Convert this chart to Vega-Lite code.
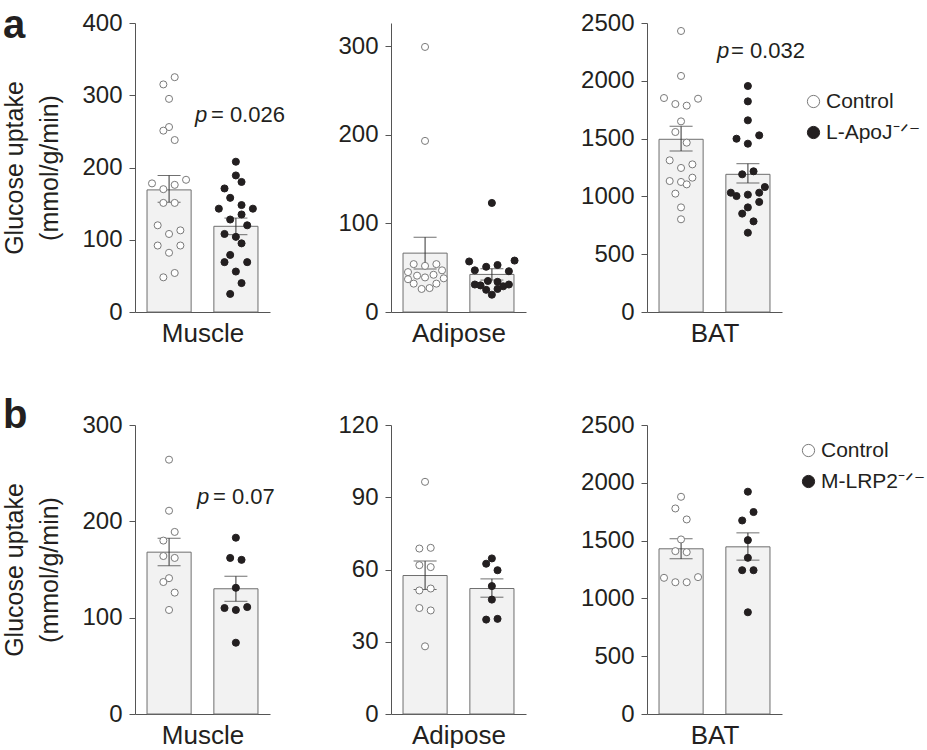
{
  "$schema": "https://vega.github.io/schema/vega-lite/v6.json",
  "padding": {"left": 2, "top": 6, "right": 0, "bottom": 0},
  "background": "white",
  "datasets": {
    "points": [
      {"exp":"a","tissue":"Muscle","group":"Control","value":325,"jit":1},
      {"exp":"a","tissue":"Muscle","group":"Control","value":315,"jit":-1},
      {"exp":"a","tissue":"Muscle","group":"Control","value":295,"jit":0},
      {"exp":"a","tissue":"Muscle","group":"Control","value":256,"jit":0},
      {"exp":"a","tissue":"Muscle","group":"Control","value":251,"jit":-1},
      {"exp":"a","tissue":"Muscle","group":"Control","value":238,"jit":1},
      {"exp":"a","tissue":"Muscle","group":"Control","value":183,"jit":3},
      {"exp":"a","tissue":"Muscle","group":"Control","value":178,"jit":-3},
      {"exp":"a","tissue":"Muscle","group":"Control","value":176,"jit":1},
      {"exp":"a","tissue":"Muscle","group":"Control","value":170,"jit":-1},
      {"exp":"a","tissue":"Muscle","group":"Control","value":151,"jit":-1},
      {"exp":"a","tissue":"Muscle","group":"Control","value":151,"jit":1},
      {"exp":"a","tissue":"Muscle","group":"Control","value":120,"jit":-2},
      {"exp":"a","tissue":"Muscle","group":"Control","value":113,"jit":2},
      {"exp":"a","tissue":"Muscle","group":"Control","value":108,"jit":0},
      {"exp":"a","tissue":"Muscle","group":"Control","value":92,"jit":-2},
      {"exp":"a","tissue":"Muscle","group":"Control","value":92,"jit":2},
      {"exp":"a","tissue":"Muscle","group":"Control","value":82,"jit":0},
      {"exp":"a","tissue":"Muscle","group":"Control","value":54,"jit":1},
      {"exp":"a","tissue":"Muscle","group":"Control","value":48,"jit":-1},
      {"exp":"a","tissue":"Muscle","group":"L-ApoJ","value":208,"jit":0},
      {"exp":"a","tissue":"Muscle","group":"L-ApoJ","value":189,"jit":0},
      {"exp":"a","tissue":"Muscle","group":"L-ApoJ","value":180,"jit":1},
      {"exp":"a","tissue":"Muscle","group":"L-ApoJ","value":171,"jit":-2},
      {"exp":"a","tissue":"Muscle","group":"L-ApoJ","value":158,"jit":-1},
      {"exp":"a","tissue":"Muscle","group":"L-ApoJ","value":148,"jit":1},
      {"exp":"a","tissue":"Muscle","group":"L-ApoJ","value":143,"jit":-3},
      {"exp":"a","tissue":"Muscle","group":"L-ApoJ","value":143,"jit":3},
      {"exp":"a","tissue":"Muscle","group":"L-ApoJ","value":135,"jit":1},
      {"exp":"a","tissue":"Muscle","group":"L-ApoJ","value":128,"jit":-1},
      {"exp":"a","tissue":"Muscle","group":"L-ApoJ","value":120,"jit":2},
      {"exp":"a","tissue":"Muscle","group":"L-ApoJ","value":108,"jit":-2},
      {"exp":"a","tissue":"Muscle","group":"L-ApoJ","value":104,"jit":0},
      {"exp":"a","tissue":"Muscle","group":"L-ApoJ","value":95,"jit":1},
      {"exp":"a","tissue":"Muscle","group":"L-ApoJ","value":79,"jit":-1},
      {"exp":"a","tissue":"Muscle","group":"L-ApoJ","value":69,"jit":-2},
      {"exp":"a","tissue":"Muscle","group":"L-ApoJ","value":69,"jit":2},
      {"exp":"a","tissue":"Muscle","group":"L-ApoJ","value":56,"jit":0},
      {"exp":"a","tissue":"Muscle","group":"L-ApoJ","value":40,"jit":1},
      {"exp":"a","tissue":"Muscle","group":"L-ApoJ","value":25,"jit":-1},
      {"exp":"a","tissue":"Adipose","group":"Control","value":299,"jit":0},
      {"exp":"a","tissue":"Adipose","group":"Control","value":193,"jit":0},
      {"exp":"a","tissue":"Adipose","group":"Control","value":54,"jit":-2},
      {"exp":"a","tissue":"Adipose","group":"Control","value":52,"jit":0},
      {"exp":"a","tissue":"Adipose","group":"Control","value":54,"jit":2},
      {"exp":"a","tissue":"Adipose","group":"Control","value":45,"jit":-3},
      {"exp":"a","tissue":"Adipose","group":"Control","value":41,"jit":-1.4},
      {"exp":"a","tissue":"Adipose","group":"Control","value":47,"jit":3},
      {"exp":"a","tissue":"Adipose","group":"Control","value":39,"jit":0},
      {"exp":"a","tissue":"Adipose","group":"Control","value":42,"jit":1.5},
      {"exp":"a","tissue":"Adipose","group":"Control","value":37,"jit":-3},
      {"exp":"a","tissue":"Adipose","group":"Control","value":38,"jit":3.3},
      {"exp":"a","tissue":"Adipose","group":"Control","value":32,"jit":-2},
      {"exp":"a","tissue":"Adipose","group":"Control","value":32,"jit":2},
      {"exp":"a","tissue":"Adipose","group":"Control","value":26,"jit":-0.6},
      {"exp":"a","tissue":"Adipose","group":"Control","value":27,"jit":0.8},
      {"exp":"a","tissue":"Adipose","group":"L-ApoJ","value":123,"jit":0},
      {"exp":"a","tissue":"Adipose","group":"L-ApoJ","value":57,"jit":-4},
      {"exp":"a","tissue":"Adipose","group":"L-ApoJ","value":58,"jit":4},
      {"exp":"a","tissue":"Adipose","group":"L-ApoJ","value":51,"jit":-1},
      {"exp":"a","tissue":"Adipose","group":"L-ApoJ","value":53,"jit":1},
      {"exp":"a","tissue":"Adipose","group":"L-ApoJ","value":47,"jit":-3},
      {"exp":"a","tissue":"Adipose","group":"L-ApoJ","value":46,"jit":3},
      {"exp":"a","tissue":"Adipose","group":"L-ApoJ","value":31,"jit":-3},
      {"exp":"a","tissue":"Adipose","group":"L-ApoJ","value":30,"jit":-2},
      {"exp":"a","tissue":"Adipose","group":"L-ApoJ","value":35,"jit":-0.7},
      {"exp":"a","tissue":"Adipose","group":"L-ApoJ","value":34,"jit":1},
      {"exp":"a","tissue":"Adipose","group":"L-ApoJ","value":29,"jit":2},
      {"exp":"a","tissue":"Adipose","group":"L-ApoJ","value":31,"jit":3},
      {"exp":"a","tissue":"Adipose","group":"L-ApoJ","value":25,"jit":-1},
      {"exp":"a","tissue":"Adipose","group":"L-ApoJ","value":19.5,"jit":0},
      {"exp":"a","tissue":"Adipose","group":"L-ApoJ","value":26,"jit":1},
      {"exp":"a","tissue":"BAT","group":"Control","value":2431,"jit":0},
      {"exp":"a","tissue":"BAT","group":"Control","value":2042,"jit":0},
      {"exp":"a","tissue":"BAT","group":"Control","value":1851,"jit":-3},
      {"exp":"a","tissue":"BAT","group":"Control","value":1799,"jit":-1},
      {"exp":"a","tissue":"BAT","group":"Control","value":1785,"jit":1},
      {"exp":"a","tissue":"BAT","group":"Control","value":1845,"jit":3},
      {"exp":"a","tissue":"BAT","group":"Control","value":1649,"jit":0},
      {"exp":"a","tissue":"BAT","group":"Control","value":1557,"jit":-1},
      {"exp":"a","tissue":"BAT","group":"Control","value":1465,"jit":1},
      {"exp":"a","tissue":"BAT","group":"Control","value":1312,"jit":-2},
      {"exp":"a","tissue":"BAT","group":"Control","value":1277,"jit":2},
      {"exp":"a","tissue":"BAT","group":"Control","value":1246,"jit":0},
      {"exp":"a","tissue":"BAT","group":"Control","value":1133,"jit":-2},
      {"exp":"a","tissue":"BAT","group":"Control","value":1125,"jit":0},
      {"exp":"a","tissue":"BAT","group":"Control","value":1162,"jit":2},
      {"exp":"a","tissue":"BAT","group":"Control","value":1104,"jit":1},
      {"exp":"a","tissue":"BAT","group":"Control","value":1024,"jit":-1},
      {"exp":"a","tissue":"BAT","group":"Control","value":905,"jit":0},
      {"exp":"a","tissue":"BAT","group":"Control","value":802,"jit":0},
      {"exp":"a","tissue":"BAT","group":"L-ApoJ","value":1955,"jit":0},
      {"exp":"a","tissue":"BAT","group":"L-ApoJ","value":1822,"jit":0},
      {"exp":"a","tissue":"BAT","group":"L-ApoJ","value":1658,"jit":0},
      {"exp":"a","tissue":"BAT","group":"L-ApoJ","value":1499,"jit":-2},
      {"exp":"a","tissue":"BAT","group":"L-ApoJ","value":1528,"jit":2},
      {"exp":"a","tissue":"BAT","group":"L-ApoJ","value":1456,"jit":0},
      {"exp":"a","tissue":"BAT","group":"L-ApoJ","value":1191,"jit":-1},
      {"exp":"a","tissue":"BAT","group":"L-ApoJ","value":1217,"jit":1},
      {"exp":"a","tissue":"BAT","group":"L-ApoJ","value":1081,"jit":3},
      {"exp":"a","tissue":"BAT","group":"L-ApoJ","value":1032,"jit":-3},
      {"exp":"a","tissue":"BAT","group":"L-ApoJ","value":1003,"jit":-2},
      {"exp":"a","tissue":"BAT","group":"L-ApoJ","value":1015,"jit":0},
      {"exp":"a","tissue":"BAT","group":"L-ApoJ","value":1032,"jit":2},
      {"exp":"a","tissue":"BAT","group":"L-ApoJ","value":905,"jit":0},
      {"exp":"a","tissue":"BAT","group":"L-ApoJ","value":952,"jit":2},
      {"exp":"a","tissue":"BAT","group":"L-ApoJ","value":851,"jit":-1},
      {"exp":"a","tissue":"BAT","group":"L-ApoJ","value":784,"jit":1},
      {"exp":"a","tissue":"BAT","group":"L-ApoJ","value":686,"jit":0},
      {"exp":"b","tissue":"Muscle","group":"Control","value":264,"jit":0},
      {"exp":"b","tissue":"Muscle","group":"Control","value":211,"jit":0},
      {"exp":"b","tissue":"Muscle","group":"Control","value":189,"jit":1},
      {"exp":"b","tissue":"Muscle","group":"Control","value":180,"jit":-1},
      {"exp":"b","tissue":"Muscle","group":"Control","value":164,"jit":-1},
      {"exp":"b","tissue":"Muscle","group":"Control","value":162,"jit":1},
      {"exp":"b","tissue":"Muscle","group":"Control","value":141,"jit":0},
      {"exp":"b","tissue":"Muscle","group":"Control","value":137,"jit":-1},
      {"exp":"b","tissue":"Muscle","group":"Control","value":126,"jit":1},
      {"exp":"b","tissue":"Muscle","group":"Control","value":108,"jit":0},
      {"exp":"b","tissue":"Muscle","group":"M-LRP2","value":183,"jit":0},
      {"exp":"b","tissue":"Muscle","group":"M-LRP2","value":162,"jit":-1},
      {"exp":"b","tissue":"Muscle","group":"M-LRP2","value":160,"jit":1},
      {"exp":"b","tissue":"Muscle","group":"M-LRP2","value":131,"jit":0},
      {"exp":"b","tissue":"Muscle","group":"M-LRP2","value":110,"jit":-2},
      {"exp":"b","tissue":"Muscle","group":"M-LRP2","value":108,"jit":0},
      {"exp":"b","tissue":"Muscle","group":"M-LRP2","value":111,"jit":2},
      {"exp":"b","tissue":"Muscle","group":"M-LRP2","value":74,"jit":0},
      {"exp":"b","tissue":"Adipose","group":"Control","value":96.4,"jit":0},
      {"exp":"b","tissue":"Adipose","group":"Control","value":68.7,"jit":-1},
      {"exp":"b","tissue":"Adipose","group":"Control","value":69,"jit":1},
      {"exp":"b","tissue":"Adipose","group":"Control","value":61.8,"jit":-1},
      {"exp":"b","tissue":"Adipose","group":"Control","value":61,"jit":1},
      {"exp":"b","tissue":"Adipose","group":"Control","value":51.3,"jit":-1},
      {"exp":"b","tissue":"Adipose","group":"Control","value":52.1,"jit":1},
      {"exp":"b","tissue":"Adipose","group":"Control","value":44,"jit":-1},
      {"exp":"b","tissue":"Adipose","group":"Control","value":43,"jit":1},
      {"exp":"b","tissue":"Adipose","group":"Control","value":28.1,"jit":0},
      {"exp":"b","tissue":"Adipose","group":"M-LRP2","value":64.6,"jit":0},
      {"exp":"b","tissue":"Adipose","group":"M-LRP2","value":62.4,"jit":-1},
      {"exp":"b","tissue":"Adipose","group":"M-LRP2","value":59.7,"jit":1},
      {"exp":"b","tissue":"Adipose","group":"M-LRP2","value":53.1,"jit":0},
      {"exp":"b","tissue":"Adipose","group":"M-LRP2","value":47.5,"jit":0},
      {"exp":"b","tissue":"Adipose","group":"M-LRP2","value":39.2,"jit":-1},
      {"exp":"b","tissue":"Adipose","group":"M-LRP2","value":39.5,"jit":1},
      {"exp":"b","tissue":"BAT","group":"Control","value":1879,"jit":0},
      {"exp":"b","tissue":"BAT","group":"Control","value":1778,"jit":-1},
      {"exp":"b","tissue":"BAT","group":"Control","value":1683,"jit":1},
      {"exp":"b","tissue":"BAT","group":"Control","value":1510,"jit":0},
      {"exp":"b","tissue":"BAT","group":"Control","value":1409,"jit":-1},
      {"exp":"b","tissue":"BAT","group":"Control","value":1400,"jit":1},
      {"exp":"b","tissue":"BAT","group":"Control","value":1178,"jit":-3},
      {"exp":"b","tissue":"BAT","group":"Control","value":1140,"jit":-1},
      {"exp":"b","tissue":"BAT","group":"Control","value":1140,"jit":1},
      {"exp":"b","tissue":"BAT","group":"Control","value":1184,"jit":3},
      {"exp":"b","tissue":"BAT","group":"M-LRP2","value":1923,"jit":0},
      {"exp":"b","tissue":"BAT","group":"M-LRP2","value":1747,"jit":1},
      {"exp":"b","tissue":"BAT","group":"M-LRP2","value":1674,"jit":-1},
      {"exp":"b","tissue":"BAT","group":"M-LRP2","value":1504,"jit":0},
      {"exp":"b","tissue":"BAT","group":"M-LRP2","value":1351,"jit":0},
      {"exp":"b","tissue":"BAT","group":"M-LRP2","value":1244,"jit":-1},
      {"exp":"b","tissue":"BAT","group":"M-LRP2","value":1244,"jit":1},
      {"exp":"b","tissue":"BAT","group":"M-LRP2","value":880,"jit":0}
    ],
    "summary": [
      {"exp":"a","tissue":"Muscle","group":"Control","mean":169,"lo":152,"hi":189},
      {"exp":"a","tissue":"Muscle","group":"L-ApoJ","mean":118.6,"lo":107,"hi":130},
      {"exp":"a","tissue":"Adipose","group":"Control","mean":66.4,"lo":48.4,"hi":84.4},
      {"exp":"a","tissue":"Adipose","group":"L-ApoJ","mean":42.4,"lo":36,"hi":48.8},
      {"exp":"a","tissue":"BAT","group":"Control","mean":1494,"lo":1393,"hi":1606},
      {"exp":"a","tissue":"BAT","group":"L-ApoJ","mean":1191,"lo":1116,"hi":1283},
      {"exp":"b","tissue":"Muscle","group":"Control","mean":168,"lo":154,"hi":182.5},
      {"exp":"b","tissue":"Muscle","group":"M-LRP2","mean":130,"lo":117,"hi":143},
      {"exp":"b","tissue":"Adipose","group":"Control","mean":57.5,"lo":51.7,"hi":63.5},
      {"exp":"b","tissue":"Adipose","group":"M-LRP2","mean":52.1,"lo":48.5,"hi":56.1},
      {"exp":"b","tissue":"BAT","group":"Control","mean":1429,"lo":1342,"hi":1516},
      {"exp":"b","tissue":"BAT","group":"M-LRP2","mean":1446,"lo":1331,"hi":1567}
    ],
    "pvals": [
      {"exp":"a","tissue":"Muscle","label":"= 0.026"},
      {"exp":"a","tissue":"BAT","label":"= 0.032"},
      {"exp":"b","tissue":"Muscle","label":"= 0.07"}
    ]
  },
  "columns": 3,
  "spacing": {"row": 113, "column": 121},
  "bounds": "flush",
  "resolve": {"scale": {"x": "independent", "y": "independent", "fill": "independent", "stroke": "independent", "xOffset": "independent"}, "legend": {"fill": "independent", "stroke": "independent"}},
  "concat": [
    {
      "width": 135, "height": 289,
      "title": {"text": "a", "anchor": "start", "frame": "bounds", "fontSize": 40, "fontWeight": "bold", "font": "Liberation Sans", "color": "#231f20", "offset": -35},
      "resolve": {"scale": {"xOffset": "independent"}},
      "layer": [
        {"data": {"name": "summary"}, "transform": [{"filter": "datum.exp=='a' && datum.tissue=='Muscle'"}],
         "mark": {"type": "bar", "fill": "#f2f2f2", "stroke": "#6e6e6e", "strokeWidth": 1},
         "encoding": {
           "x": {"field": "group", "type": "nominal", "scale": {"domain": ["Control", "L-ApoJ"], "paddingInner": 0.34, "paddingOuter": 0.18}, "axis": {"title": "Muscle"}},
           "y": {"field": "mean", "type": "quantitative", "scale": {"domain": [0, 400], "nice": false}, "axis": {"values": [0, 100, 200, 300, 400], "title": ["Glucose uptake", "(mmol/g/min)"]}}}},
        {"data": {"name": "summary"}, "transform": [{"filter": "datum.exp=='a' && datum.tissue=='Muscle'"}],
         "mark": {"type": "rule", "color": "#333333", "strokeWidth": 1},
         "encoding": {"x": {"field": "group", "type": "nominal"}, "y": {"field": "lo", "type": "quantitative"}, "y2": {"field": "hi"}}},
        {"data": {"name": "summary"}, "transform": [{"filter": "datum.exp=='a' && datum.tissue=='Muscle'"}],
         "mark": {"type": "tick", "color": "#333333", "thickness": 1, "size": 23},
         "encoding": {"x": {"field": "group", "type": "nominal"}, "y": {"field": "hi", "type": "quantitative"}}},
        {"data": {"name": "summary"}, "transform": [{"filter": "datum.exp=='a' && datum.tissue=='Muscle'"}],
         "mark": {"type": "tick", "color": "#333333", "thickness": 1, "size": 23},
         "encoding": {"x": {"field": "group", "type": "nominal"}, "y": {"field": "lo", "type": "quantitative"}}},
        {"data": {"name": "points"}, "transform": [{"filter": "datum.exp=='a' && datum.tissue=='Muscle'"}],
         "mark": {"type": "circle", "size": 50, "strokeWidth": 1, "opacity": 1},
         "encoding": {
           "x": {"field": "group", "type": "nominal"},
           "xOffset": {"field": "jit", "type": "quantitative", "scale": {"domain": [-4, 4], "range": [-0.7, 44.7]}},
           "y": {"field": "value", "type": "quantitative"},
           "fill": {"field": "group", "type": "nominal", "scale": {"domain": ["Control", "L-ApoJ"], "range": ["#ffffff", "#231f20"]}, "legend": null},
           "stroke": {"field": "group", "type": "nominal", "scale": {"domain": ["Control", "L-ApoJ"], "range": ["#7a7a7a", "#231f20"]}, "legend": null}}},
        {"data": {"name": "pvals"}, "transform": [{"filter": "datum.exp=='a' && datum.tissue=='Muscle'"}],
         "mark": {"type": "text", "text": "p", "fontStyle": "italic", "fontSize": 22, "align": "left", "baseline": "middle", "dx": -41, "color": "#231f20"},
         "encoding": {"x": {"datum": "L-ApoJ", "type": "nominal"}, "y": {"datum": 272, "type": "quantitative"}}},
        {"data": {"name": "pvals"}, "transform": [{"filter": "datum.exp=='a' && datum.tissue=='Muscle'"}],
         "mark": {"type": "text", "fontSize": 22, "align": "left", "baseline": "middle", "dx": -25, "color": "#231f20"},
         "encoding": {"x": {"datum": "L-ApoJ", "type": "nominal"}, "y": {"datum": 272, "type": "quantitative"}, "text": {"field": "label", "type": "nominal"}}}
      ]
    },
    {
      "width": 135, "height": 289,
      "resolve": {"scale": {"xOffset": "independent"}},
      "layer": [
        {"data": {"name": "summary"}, "transform": [{"filter": "datum.exp=='a' && datum.tissue=='Adipose'"}],
         "mark": {"type": "bar", "fill": "#f2f2f2", "stroke": "#6e6e6e", "strokeWidth": 1},
         "encoding": {
           "x": {"field": "group", "type": "nominal", "scale": {"domain": ["Control", "L-ApoJ"], "paddingInner": 0.34, "paddingOuter": 0.18}, "axis": {"title": "Adipose"}},
           "y": {"field": "mean", "type": "quantitative", "scale": {"domain": [0, 326], "nice": false}, "axis": {"values": [0, 100, 200, 300], "title": null}}}},
        {"data": {"name": "summary"}, "transform": [{"filter": "datum.exp=='a' && datum.tissue=='Adipose'"}],
         "mark": {"type": "rule", "color": "#333333", "strokeWidth": 1},
         "encoding": {"x": {"field": "group", "type": "nominal"}, "y": {"field": "lo", "type": "quantitative"}, "y2": {"field": "hi"}}},
        {"data": {"name": "summary"}, "transform": [{"filter": "datum.exp=='a' && datum.tissue=='Adipose'"}],
         "mark": {"type": "tick", "color": "#333333", "thickness": 1, "size": 23},
         "encoding": {"x": {"field": "group", "type": "nominal"}, "y": {"field": "hi", "type": "quantitative"}}},
        {"data": {"name": "summary"}, "transform": [{"filter": "datum.exp=='a' && datum.tissue=='Adipose'"}],
         "mark": {"type": "tick", "color": "#333333", "thickness": 1, "size": 23},
         "encoding": {"x": {"field": "group", "type": "nominal"}, "y": {"field": "lo", "type": "quantitative"}}},
        {"data": {"name": "points"}, "transform": [{"filter": "datum.exp=='a' && datum.tissue=='Adipose'"}],
         "mark": {"type": "circle", "size": 50, "strokeWidth": 1, "opacity": 1},
         "encoding": {
           "x": {"field": "group", "type": "nominal"},
           "xOffset": {"field": "jit", "type": "quantitative", "scale": {"domain": [-4, 4], "range": [-0.7, 44.7]}},
           "y": {"field": "value", "type": "quantitative"},
           "fill": {"field": "group", "type": "nominal", "scale": {"domain": ["Control", "L-ApoJ"], "range": ["#ffffff", "#231f20"]}, "legend": null},
           "stroke": {"field": "group", "type": "nominal", "scale": {"domain": ["Control", "L-ApoJ"], "range": ["#7a7a7a", "#231f20"]}, "legend": null}}}
      ]
    },
    {
      "width": 135, "height": 289,
      "resolve": {"scale": {"xOffset": "independent"}},
      "layer": [
        {"data": {"name": "summary"}, "transform": [{"filter": "datum.exp=='a' && datum.tissue=='BAT'"}],
         "mark": {"type": "bar", "fill": "#f2f2f2", "stroke": "#6e6e6e", "strokeWidth": 1},
         "encoding": {
           "x": {"field": "group", "type": "nominal", "scale": {"domain": ["Control", "L-ApoJ"], "paddingInner": 0.34, "paddingOuter": 0.18}, "axis": {"title": "BAT"}},
           "y": {"field": "mean", "type": "quantitative", "scale": {"domain": [0, 2500], "nice": false}, "axis": {"values": [0, 500, 1000, 1500, 2000, 2500], "title": null}}}},
        {"data": {"name": "summary"}, "transform": [{"filter": "datum.exp=='a' && datum.tissue=='BAT'"}],
         "mark": {"type": "rule", "color": "#333333", "strokeWidth": 1},
         "encoding": {"x": {"field": "group", "type": "nominal"}, "y": {"field": "lo", "type": "quantitative"}, "y2": {"field": "hi"}}},
        {"data": {"name": "summary"}, "transform": [{"filter": "datum.exp=='a' && datum.tissue=='BAT'"}],
         "mark": {"type": "tick", "color": "#333333", "thickness": 1, "size": 23},
         "encoding": {"x": {"field": "group", "type": "nominal"}, "y": {"field": "hi", "type": "quantitative"}}},
        {"data": {"name": "summary"}, "transform": [{"filter": "datum.exp=='a' && datum.tissue=='BAT'"}],
         "mark": {"type": "tick", "color": "#333333", "thickness": 1, "size": 23},
         "encoding": {"x": {"field": "group", "type": "nominal"}, "y": {"field": "lo", "type": "quantitative"}}},
        {"data": {"name": "points"}, "transform": [{"filter": "datum.exp=='a' && datum.tissue=='BAT'"}],
         "mark": {"type": "circle", "size": 50, "strokeWidth": 1, "opacity": 1},
         "encoding": {
           "x": {"field": "group", "type": "nominal"},
           "xOffset": {"field": "jit", "type": "quantitative", "scale": {"domain": [-4, 4], "range": [-0.7, 44.7]}},
           "y": {"field": "value", "type": "quantitative"},
           "fill": {"field": "group", "type": "nominal", "scale": {"domain": ["Control", "L-ApoJ"], "range": ["#ffffff", "#231f20"]},
                    "legend": {"orient": "none", "legendX": 156, "legendY": 68, "title": null, "labelExpr": "datum.label == 'Control' ? 'Control' : datum.label + '⁻ᐟ⁻'"}},
           "stroke": {"field": "group", "type": "nominal", "scale": {"domain": ["Control", "L-ApoJ"], "range": ["#7a7a7a", "#231f20"]},
                    "legend": {"orient": "none", "legendX": 156, "legendY": 68, "title": null, "labelExpr": "datum.label == 'Control' ? 'Control' : datum.label + '⁻ᐟ⁻'"}}}},
        {"data": {"name": "pvals"}, "transform": [{"filter": "datum.exp=='a' && datum.tissue=='BAT'"}],
         "mark": {"type": "text", "text": "p", "fontStyle": "italic", "fontSize": 22, "align": "left", "baseline": "middle", "dx": -31, "color": "#231f20"},
         "encoding": {"x": {"datum": "L-ApoJ", "type": "nominal"}, "y": {"datum": 2258, "type": "quantitative"}}},
        {"data": {"name": "pvals"}, "transform": [{"filter": "datum.exp=='a' && datum.tissue=='BAT'"}],
         "mark": {"type": "text", "fontSize": 22, "align": "left", "baseline": "middle", "dx": -17, "color": "#231f20"},
         "encoding": {"x": {"datum": "L-ApoJ", "type": "nominal"}, "y": {"datum": 2258, "type": "quantitative"}, "text": {"field": "label", "type": "nominal"}}}
      ]
    },
    {
      "width": 135, "height": 289,
      "title": {"text": "b", "anchor": "start", "frame": "bounds", "fontSize": 40, "fontWeight": "bold", "font": "Liberation Sans", "color": "#231f20", "offset": -23},
      "resolve": {"scale": {"xOffset": "independent"}},
      "layer": [
        {"data": {"name": "summary"}, "transform": [{"filter": "datum.exp=='b' && datum.tissue=='Muscle'"}],
         "mark": {"type": "bar", "fill": "#f2f2f2", "stroke": "#6e6e6e", "strokeWidth": 1},
         "encoding": {
           "x": {"field": "group", "type": "nominal", "scale": {"domain": ["Control", "M-LRP2"], "paddingInner": 0.34, "paddingOuter": 0.18}, "axis": {"title": "Muscle"}},
           "y": {"field": "mean", "type": "quantitative", "scale": {"domain": [0, 300], "nice": false}, "axis": {"values": [0, 100, 200, 300], "title": ["Glucose uptake", "(mmol/g/min)"]}}}},
        {"data": {"name": "summary"}, "transform": [{"filter": "datum.exp=='b' && datum.tissue=='Muscle'"}],
         "mark": {"type": "rule", "color": "#333333", "strokeWidth": 1},
         "encoding": {"x": {"field": "group", "type": "nominal"}, "y": {"field": "lo", "type": "quantitative"}, "y2": {"field": "hi"}}},
        {"data": {"name": "summary"}, "transform": [{"filter": "datum.exp=='b' && datum.tissue=='Muscle'"}],
         "mark": {"type": "tick", "color": "#333333", "thickness": 1, "size": 23},
         "encoding": {"x": {"field": "group", "type": "nominal"}, "y": {"field": "hi", "type": "quantitative"}}},
        {"data": {"name": "summary"}, "transform": [{"filter": "datum.exp=='b' && datum.tissue=='Muscle'"}],
         "mark": {"type": "tick", "color": "#333333", "thickness": 1, "size": 23},
         "encoding": {"x": {"field": "group", "type": "nominal"}, "y": {"field": "lo", "type": "quantitative"}}},
        {"data": {"name": "points"}, "transform": [{"filter": "datum.exp=='b' && datum.tissue=='Muscle'"}],
         "mark": {"type": "circle", "size": 50, "strokeWidth": 1, "opacity": 1},
         "encoding": {
           "x": {"field": "group", "type": "nominal"},
           "xOffset": {"field": "jit", "type": "quantitative", "scale": {"domain": [-4, 4], "range": [-0.7, 44.7]}},
           "y": {"field": "value", "type": "quantitative"},
           "fill": {"field": "group", "type": "nominal", "scale": {"domain": ["Control", "M-LRP2"], "range": ["#ffffff", "#231f20"]}, "legend": null},
           "stroke": {"field": "group", "type": "nominal", "scale": {"domain": ["Control", "M-LRP2"], "range": ["#7a7a7a", "#231f20"]}, "legend": null}}},
        {"data": {"name": "pvals"}, "transform": [{"filter": "datum.exp=='b' && datum.tissue=='Muscle'"}],
         "mark": {"type": "text", "text": "p", "fontStyle": "italic", "fontSize": 22, "align": "left", "baseline": "middle", "dx": -39, "color": "#231f20"},
         "encoding": {"x": {"datum": "M-LRP2", "type": "nominal"}, "y": {"datum": 225, "type": "quantitative"}}},
        {"data": {"name": "pvals"}, "transform": [{"filter": "datum.exp=='b' && datum.tissue=='Muscle'"}],
         "mark": {"type": "text", "fontSize": 22, "align": "left", "baseline": "middle", "dx": -23, "color": "#231f20"},
         "encoding": {"x": {"datum": "M-LRP2", "type": "nominal"}, "y": {"datum": 225, "type": "quantitative"}, "text": {"field": "label", "type": "nominal"}}}
      ]
    },
    {
      "width": 135, "height": 289,
      "resolve": {"scale": {"xOffset": "independent"}},
      "layer": [
        {"data": {"name": "summary"}, "transform": [{"filter": "datum.exp=='b' && datum.tissue=='Adipose'"}],
         "mark": {"type": "bar", "fill": "#f2f2f2", "stroke": "#6e6e6e", "strokeWidth": 1},
         "encoding": {
           "x": {"field": "group", "type": "nominal", "scale": {"domain": ["Control", "M-LRP2"], "paddingInner": 0.34, "paddingOuter": 0.18}, "axis": {"title": "Adipose"}},
           "y": {"field": "mean", "type": "quantitative", "scale": {"domain": [0, 120], "nice": false}, "axis": {"values": [0, 30, 60, 90, 120], "title": null}}}},
        {"data": {"name": "summary"}, "transform": [{"filter": "datum.exp=='b' && datum.tissue=='Adipose'"}],
         "mark": {"type": "rule", "color": "#333333", "strokeWidth": 1},
         "encoding": {"x": {"field": "group", "type": "nominal"}, "y": {"field": "lo", "type": "quantitative"}, "y2": {"field": "hi"}}},
        {"data": {"name": "summary"}, "transform": [{"filter": "datum.exp=='b' && datum.tissue=='Adipose'"}],
         "mark": {"type": "tick", "color": "#333333", "thickness": 1, "size": 23},
         "encoding": {"x": {"field": "group", "type": "nominal"}, "y": {"field": "hi", "type": "quantitative"}}},
        {"data": {"name": "summary"}, "transform": [{"filter": "datum.exp=='b' && datum.tissue=='Adipose'"}],
         "mark": {"type": "tick", "color": "#333333", "thickness": 1, "size": 23},
         "encoding": {"x": {"field": "group", "type": "nominal"}, "y": {"field": "lo", "type": "quantitative"}}},
        {"data": {"name": "points"}, "transform": [{"filter": "datum.exp=='b' && datum.tissue=='Adipose'"}],
         "mark": {"type": "circle", "size": 50, "strokeWidth": 1, "opacity": 1},
         "encoding": {
           "x": {"field": "group", "type": "nominal"},
           "xOffset": {"field": "jit", "type": "quantitative", "scale": {"domain": [-4, 4], "range": [-0.7, 44.7]}},
           "y": {"field": "value", "type": "quantitative"},
           "fill": {"field": "group", "type": "nominal", "scale": {"domain": ["Control", "M-LRP2"], "range": ["#ffffff", "#231f20"]}, "legend": null},
           "stroke": {"field": "group", "type": "nominal", "scale": {"domain": ["Control", "M-LRP2"], "range": ["#7a7a7a", "#231f20"]}, "legend": null}}}
      ]
    },
    {
      "width": 135, "height": 289,
      "resolve": {"scale": {"xOffset": "independent"}},
      "layer": [
        {"data": {"name": "summary"}, "transform": [{"filter": "datum.exp=='b' && datum.tissue=='BAT'"}],
         "mark": {"type": "bar", "fill": "#f2f2f2", "stroke": "#6e6e6e", "strokeWidth": 1},
         "encoding": {
           "x": {"field": "group", "type": "nominal", "scale": {"domain": ["Control", "M-LRP2"], "paddingInner": 0.34, "paddingOuter": 0.18}, "axis": {"title": "BAT"}},
           "y": {"field": "mean", "type": "quantitative", "scale": {"domain": [0, 2500], "nice": false}, "axis": {"values": [0, 500, 1000, 1500, 2000, 2500], "title": null}}}},
        {"data": {"name": "summary"}, "transform": [{"filter": "datum.exp=='b' && datum.tissue=='BAT'"}],
         "mark": {"type": "rule", "color": "#333333", "strokeWidth": 1},
         "encoding": {"x": {"field": "group", "type": "nominal"}, "y": {"field": "lo", "type": "quantitative"}, "y2": {"field": "hi"}}},
        {"data": {"name": "summary"}, "transform": [{"filter": "datum.exp=='b' && datum.tissue=='BAT'"}],
         "mark": {"type": "tick", "color": "#333333", "thickness": 1, "size": 23},
         "encoding": {"x": {"field": "group", "type": "nominal"}, "y": {"field": "hi", "type": "quantitative"}}},
        {"data": {"name": "summary"}, "transform": [{"filter": "datum.exp=='b' && datum.tissue=='BAT'"}],
         "mark": {"type": "tick", "color": "#333333", "thickness": 1, "size": 23},
         "encoding": {"x": {"field": "group", "type": "nominal"}, "y": {"field": "lo", "type": "quantitative"}}},
        {"data": {"name": "points"}, "transform": [{"filter": "datum.exp=='b' && datum.tissue=='BAT'"}],
         "mark": {"type": "circle", "size": 50, "strokeWidth": 1, "opacity": 1},
         "encoding": {
           "x": {"field": "group", "type": "nominal"},
           "xOffset": {"field": "jit", "type": "quantitative", "scale": {"domain": [-4, 4], "range": [-0.7, 44.7]}},
           "y": {"field": "value", "type": "quantitative"},
           "fill": {"field": "group", "type": "nominal", "scale": {"domain": ["Control", "M-LRP2"], "range": ["#ffffff", "#231f20"]},
                    "legend": {"orient": "none", "legendX": 151, "legendY": 15, "title": null, "labelExpr": "datum.label == 'Control' ? 'Control' : datum.label + '⁻ᐟ⁻'"}},
           "stroke": {"field": "group", "type": "nominal", "scale": {"domain": ["Control", "M-LRP2"], "range": ["#7a7a7a", "#231f20"]},
                    "legend": {"orient": "none", "legendX": 151, "legendY": 15, "title": null, "labelExpr": "datum.label == 'Control' ? 'Control' : datum.label + '⁻ᐟ⁻'"}}}}
      ]
    }
  ],
  "config": {
    "view": {"stroke": null},
    "font": "Liberation Sans",
    "axis": {"domainColor": "#555555", "tickColor": "#555555", "labelColor": "#231f20", "titleColor": "#231f20", "labelFont": "Liberation Sans", "titleFont": "Liberation Sans", "titleFontWeight": "normal", "grid": false, "domainWidth": 1, "tickWidth": 1},
    "axisX": {"labels": false, "ticks": false, "titleFontSize": 26, "titlePadding": 8},
    "axisY": {"labelFontSize": 24, "tickSize": 6, "labelPadding": 7, "titleFontSize": 25, "titleLineHeight": 35, "titlePadding": 19, "format": "d"},
    "legend": {"labelFont": "Liberation Sans", "labelFontSize": 21, "labelColor": "#231f20", "symbolSize": 150, "symbolStrokeWidth": 1, "symbolType": "circle", "labelOffset": 2, "rowPadding": 9}
  }
}
